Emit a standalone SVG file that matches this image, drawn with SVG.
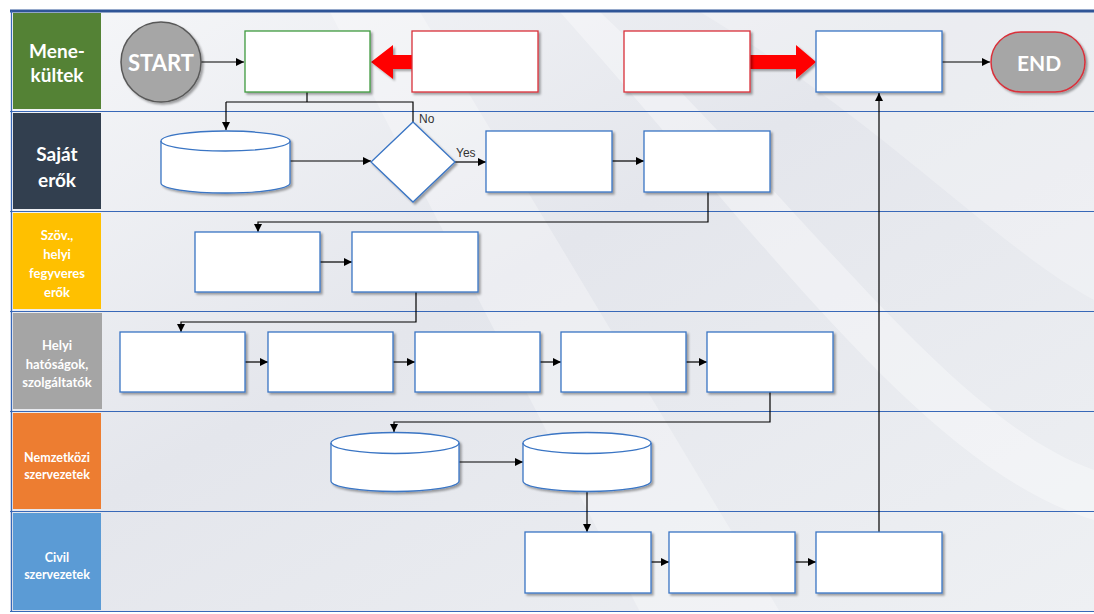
<svg xmlns="http://www.w3.org/2000/svg" width="1094" height="614" viewBox="0 0 1094 614">
<defs>
<linearGradient id="bg" x1="0" y1="0" x2="1" y2="1">
<stop offset="0" stop-color="#f6f7f9"/>
<stop offset="0.45" stop-color="#e4e6ec"/>
<stop offset="1" stop-color="#eef0f3"/>
</linearGradient>
<filter id="sh" x="-10%" y="-10%" width="130%" height="140%">
<feDropShadow dx="2" dy="2" stdDeviation="1.2" flood-color="#000" flood-opacity="0.35"/>
</filter>
<marker id="ah" viewBox="0 0 10 10" refX="10" refY="5" markerWidth="8" markerHeight="8" orient="auto" markerUnits="userSpaceOnUse">
<path d="M0,0 L10,5 L0,10 z" fill="#000"/>
</marker>
</defs>
<style>
.box{fill:#fff;stroke:#3a75c4;stroke-width:1.3;filter:url(#sh)}
.red{stroke:#d9303a}
.green{stroke:#3f9a3f}
.con{fill:none;stroke:#000;stroke-width:1.2}
.lane{stroke:#3868b8;stroke-width:1.2}
.hd{font-family:Lato,'Liberation Sans',sans-serif;font-weight:bold;fill:#fff;text-anchor:middle;dominant-baseline:central}
.lbl{font-family:'Liberation Sans',Arial,sans-serif;font-size:12px;fill:#333}
</style>
<rect x="0" y="0" width="1094" height="614" fill="#fff"/>
<rect x="10" y="11" width="1084" height="601" fill="url(#bg)"/>
<path d="M330,12 L420,12 L780,612 L640,612 Z" fill="#fff" opacity="0.3"/>
<path d="M600,12 C800,200 950,420 1094,470 L1094,520 C930,470 780,260 560,12 Z" fill="#fff" opacity="0.35"/>
<path d="M700,12 C880,120 1000,250 1094,300 L1094,12 Z" fill="#fff" opacity="0.25"/>
<g id="lanes">
<line class="lane" x1="10" y1="111.5" x2="1094" y2="111.5"/>
<line class="lane" x1="10" y1="211.5" x2="1094" y2="211.5"/>
<line class="lane" x1="10" y1="311.5" x2="1094" y2="311.5"/>
<line class="lane" x1="10" y1="411.5" x2="1094" y2="411.5"/>
<line class="lane" x1="10" y1="511.5" x2="1094" y2="511.5"/>
<line class="lane" x1="10" y1="611.5" x2="1094" y2="611.5"/>
<line x1="10" y1="11" x2="1094" y2="11" stroke="#2f5597" stroke-width="3"/>
<line class="lane" x1="11.5" y1="11" x2="11.5" y2="612"/>
</g>
<g id="header-menekultek"><rect x="13" y="13" width="88" height="96" fill="#548235"/><text class="hd" x="57" y="50" font-size="19">Mene-</text><text class="hd" x="57" y="74" font-size="19">kültek</text></g>
<g id="header-sajat"><rect x="13" y="113" width="88" height="96" fill="#323f4f"/><text class="hd" x="57" y="153" font-size="19">Saját</text><text class="hd" x="57" y="179" font-size="19">erők</text></g>
<g id="header-szov"><rect x="13" y="213" width="88" height="96" fill="#ffc000"/><text class="hd" x="57" y="235" font-size="13">Szöv.,</text><text class="hd" x="57" y="254" font-size="13">helyi</text><text class="hd" x="57" y="273" font-size="13">fegyveres</text><text class="hd" x="57" y="292" font-size="13">erők</text></g>
<g id="header-helyi"><rect x="13" y="313" width="89" height="96" fill="#a5a5a5"/><text class="hd" x="57" y="345" font-size="13">Helyi</text><text class="hd" x="57" y="364" font-size="13">hatóságok,</text><text class="hd" x="57" y="382" font-size="13">szolgáltatók</text></g>
<g id="header-nemzetkozi"><rect x="13" y="413" width="88" height="96" fill="#ed7d31"/><text class="hd" x="57" y="457" font-size="12.5">Nemzetközi</text><text class="hd" x="57" y="474" font-size="12.5">szervezetek</text></g>
<g id="header-civil"><rect x="13" y="513" width="88" height="97" fill="#5b9bd5"/><text class="hd" x="57" y="557" font-size="12.5">Civil</text><text class="hd" x="57" y="574" font-size="12.5">szervezetek</text></g>

<g id="connectors">
<path class="con" d="M201,62 H244" marker-end="url(#ah)"/>
<path class="con" d="M307,92 V102"/>
<path class="con" d="M226,102 H413 V122"/>
<path class="con" d="M226,102 V130" marker-end="url(#ah)"/>
<path class="con" d="M290,161 H371" marker-end="url(#ah)"/>
<path class="con" d="M455,162 H486" marker-end="url(#ah)"/>
<path class="con" d="M612,161 H644" marker-end="url(#ah)"/>
<path class="con" d="M708,192 V222 H258 V232" marker-end="url(#ah)"/>
<path class="con" d="M320,262 H352" marker-end="url(#ah)"/>
<path class="con" d="M416,292 V322 H181 V332" marker-end="url(#ah)"/>
<path class="con" d="M245,362 H268" marker-end="url(#ah)"/>
<path class="con" d="M393,362 H415" marker-end="url(#ah)"/>
<path class="con" d="M540,362 H561" marker-end="url(#ah)"/>
<path class="con" d="M686,362 H707" marker-end="url(#ah)"/>
<path class="con" d="M770,392 V422 H394 V432" marker-end="url(#ah)"/>
<path class="con" d="M459,462 H523" marker-end="url(#ah)"/>
<path class="con" d="M587,491 V532" marker-end="url(#ah)"/>
<path class="con" d="M651,562 H669" marker-end="url(#ah)"/>
<path class="con" d="M795,562 H816" marker-end="url(#ah)"/>
<path class="con" d="M879,532 V93" marker-end="url(#ah)"/>
<path class="con" d="M942,62 H990" marker-end="url(#ah)"/>
<polygon points="412,55 393,55 393,45 371,62 393,79 393,69 412,69" fill="#ff0000" filter="url(#sh)"/>
<polygon points="750,55 796,55 796,45 816,62 796,79 796,69 750,69" fill="#ff0000" filter="url(#sh)"/>
<text class="lbl" x="419" y="123">No</text>
<text class="lbl" x="456" y="157">Yes</text>
</g>

<g id="start"><circle cx="161" cy="62" r="40" fill="#a6a6a6" stroke="#595959" stroke-width="1.5" filter="url(#sh)"/><text class="hd" x="161" y="62" font-size="22">START</text></g>
<g id="n-green"><rect class="box green" x="245" y="31" width="125" height="61"/></g>
<g id="n-red1"><rect class="box red" x="412" y="31" width="126" height="61"/></g>
<g id="n-red2"><rect class="box red" x="624" y="31" width="126" height="61"/></g>
<g id="n-top"><rect class="box" x="816" y="31" width="126" height="61"/></g>
<g id="end"><rect x="991" y="32" width="94" height="60" rx="30" ry="30" fill="#a6a6a6" stroke="#d9303a" stroke-width="1.5" filter="url(#sh)"/><text class="hd" x="1039" y="62" font-size="21">END</text></g>

<g id="cyl1"><path class="box" d="M161,141 A64.5,10 0 0 1 290,141 V183 A64.5,10 0 0 1 161,183 Z"/><path d="M161,141 A64.5,10 0 0 0 290,141" fill="none" stroke="#3a75c4" stroke-width="1.3"/></g>
<g id="diamond"><polygon class="box" points="413,122 455,162 413,202 371,162"/></g>
<g id="n-s1"><rect class="box" x="486" y="131" width="126" height="61"/></g>
<g id="n-s2"><rect class="box" x="644" y="131" width="126" height="61"/></g>

<g id="n-y1"><rect class="box" x="195" y="232" width="125" height="60"/></g>
<g id="n-y2"><rect class="box" x="352" y="232" width="126" height="60"/></g>

<g id="n-h1"><rect class="box" x="120" y="332" width="125" height="60"/></g>
<g id="n-h2"><rect class="box" x="268" y="332" width="125" height="60"/></g>
<g id="n-h3"><rect class="box" x="415" y="332" width="125" height="60"/></g>
<g id="n-h4"><rect class="box" x="561" y="332" width="125" height="60"/></g>
<g id="n-h5"><rect class="box" x="707" y="332" width="126" height="60"/></g>

<g id="cyl2"><path class="box" d="M331,443 A64,10.5 0 0 1 459,443 V481 A64,10.5 0 0 1 331,481 Z"/><path d="M331,443 A64,10.5 0 0 0 459,443" fill="none" stroke="#3a75c4" stroke-width="1.3"/></g>
<g id="cyl3"><path class="box" d="M523,443 A64,10.5 0 0 1 651,443 V481 A64,10.5 0 0 1 523,481 Z"/><path d="M523,443 A64,10.5 0 0 0 651,443" fill="none" stroke="#3a75c4" stroke-width="1.3"/></g>

<g id="n-c1"><rect class="box" x="525" y="532" width="126" height="61"/></g>
<g id="n-c2"><rect class="box" x="669" y="532" width="126" height="61"/></g>
<g id="n-c3"><rect class="box" x="816" y="532" width="126" height="61"/></g>
</svg>
